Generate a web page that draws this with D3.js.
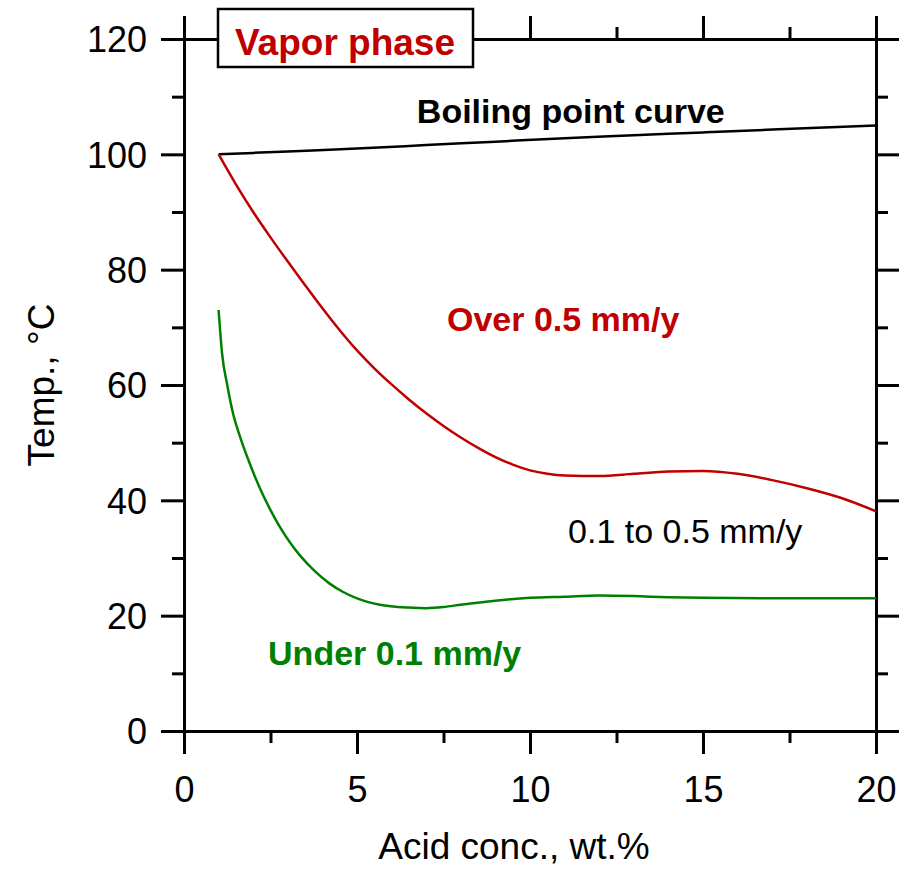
<!DOCTYPE html>
<html>
<head>
<meta charset="utf-8">
<script src="https://cdn.jsdelivr.net/npm/d3@7"></script>
<style>
  body { margin: 0; background: #fff; }
  svg { display: block; font-family: Arial, "Liberation Sans", sans-serif; }
</style>
</head>
<body>
<svg width="917" height="872"></svg>
<script>
// acid concentration (wt.%) vs temperature (C) for each corrosion boundary
const boilingConc = [1, 3, 5, 7, 9, 11, 13, 15, 17, 20];
const boilingTemp = [100, 100.5, 101, 101.6, 102.2, 102.8, 103.3, 103.8, 104.3, 105];

const overConc = [1, 1.5, 2, 2.5, 3, 3.5, 4, 4.5, 5, 5.5, 6, 6.5, 7, 7.5, 8, 8.5, 9, 9.5, 10, 10.5, 11, 12, 13, 14, 15, 16, 17, 18, 19, 20];
const overTemp = [100, 94.8, 90, 85.6, 81.4, 77.3, 73.3, 69.5, 66, 62.9, 60.1, 57.5, 55.1, 52.9, 50.9, 49.1, 47.5, 46.2, 45.2, 44.6, 44.3, 44.2, 44.6, 45, 45.1, 44.6, 43.5, 42.1, 40.4, 38.1];

const underConc = [1, 1.1, 1.25, 1.42, 1.65, 1.9, 2.2, 2.5, 2.8, 3.1, 3.4, 3.75, 4.2, 4.6, 5, 5.66, 6.5, 7, 7.5, 8, 9, 10, 11, 12, 13, 14, 15, 17, 20];
const underTemp = [73, 65.5, 60, 55, 50.5, 46.4, 42, 38.3, 35.1, 32.4, 30.1, 27.9, 25.6, 24.1, 23, 21.9, 21.4, 21.3, 21.5, 21.9, 22.6, 23.1, 23.3, 23.5, 23.4, 23.2, 23.1, 23.0, 23.0];

const xMajor = [0, 5, 10, 15, 20];
const xMinor = [2.5, 7.5, 12.5, 17.5];
const yMajor = [0, 20, 40, 60, 80, 100, 120];
const yMinor = [10, 30, 50, 70, 90, 110];

const red = "#c00000", green = "#008000";

var svg = d3.select("svg"),
    plotLeft = 184, plotRight = 876, plotTop = 39, plotBottom = 731;

var x = d3.scaleLinear().domain([0, 20]).range([plotLeft, plotRight]);
var y = d3.scaleLinear().domain([0, 120]).range([plotBottom, plotTop]);

// four framed axes, ticks pointing outward
function frame(axisFn, scale, pos, major, minor, labels) {
  var g = svg.append("g").attr("transform", pos);
  g.call(axisFn(scale)
    .tickValues(major).tickSizeOuter(0).tickSize(23)
    .tickFormat(labels ? d3.format("d") : ""));
  var gm = svg.append("g").attr("transform", pos);
  gm.call(axisFn(scale)
    .tickValues(minor).tickSizeOuter(0).tickSize(12).tickFormat(""));
  gm.select(".domain").remove();
  [g, gm].forEach(function(s) {
    s.attr("font-size", 36).attr("font-family", "Arial, 'Liberation Sans', sans-serif");
    s.selectAll("path, line").attr("stroke", "#000").attr("stroke-width", 3);
    s.selectAll("text").attr("fill", "#000");
  });
  return g;
}

var gx = frame(d3.axisBottom, x, "translate(0," + plotBottom + ")", xMajor, xMinor, true);
gx.selectAll("text").attr("y", 71).attr("dy", 0);
frame(d3.axisTop, x, "translate(0," + plotTop + ")", xMajor, xMinor, false);
var gy = frame(d3.axisLeft, y, "translate(" + plotLeft + ",0)", yMajor, yMinor, true);
gy.selectAll("text").attr("x", -37).attr("dy", "0.36em");
frame(d3.axisRight, y, "translate(" + plotRight + ",0)", yMajor, yMinor, false);

// boundary curves
var line = d3.line()
  .x(function(d) { return x(d[0]); })
  .y(function(d) { return y(d[1]); })
  .curve(d3.curveMonotoneX);

[[boilingConc, boilingTemp, "#000"], [overConc, overTemp, red], [underConc, underTemp, green]]
  .forEach(function(s) {
    svg.append("path")
      .datum(d3.zip(s[0], s[1]))
      .attr("d", line)
      .attr("fill", "none")
      .attr("stroke", s[2])
      .attr("stroke-width", 2.5);
  });

// axis titles
svg.append("text")
  .attr("x", 514).attr("y", 859)
  .attr("text-anchor", "middle")
  .attr("font-size", 37)
  .text("Acid conc., wt.%");

svg.append("text")
  .attr("transform", "translate(54," + (plotTop + plotBottom) / 2 + ") rotate(-90)")
  .attr("text-anchor", "middle")
  .attr("font-size", 37)
  .text("Temp., °C");

// region labels
function label(cx, ty, txt, color, bold) {
  svg.append("text")
    .attr("x", x(cx)).attr("y", y(ty))
    .attr("font-size", 34)
    .attr("font-weight", bold ? "bold" : "normal")
    .attr("fill", color)
    .text(txt);
}
label(6.73, 105.4, "Boiling point curve", "#000", true);
label(7.6, 69.4, "Over 0.5 mm/y", red, true);
label(11.1, 32.6, "0.1 to 0.5 mm/y", "#000", false);
label(2.43, 11.4, "Under 0.1 mm/y", green, true);

// boxed phase title over the top axis
svg.append("rect")
  .attr("x", 218).attr("y", 9).attr("width", 255).attr("height", 58)
  .attr("fill", "#fff").attr("stroke", "#000").attr("stroke-width", 2.5);
svg.append("text")
  .attr("x", 345).attr("y", 55)
  .attr("text-anchor", "middle")
  .attr("font-size", 37).attr("font-weight", "bold")
  .attr("fill", red)
  .text("Vapor phase");
</script>
</body>
</html>
